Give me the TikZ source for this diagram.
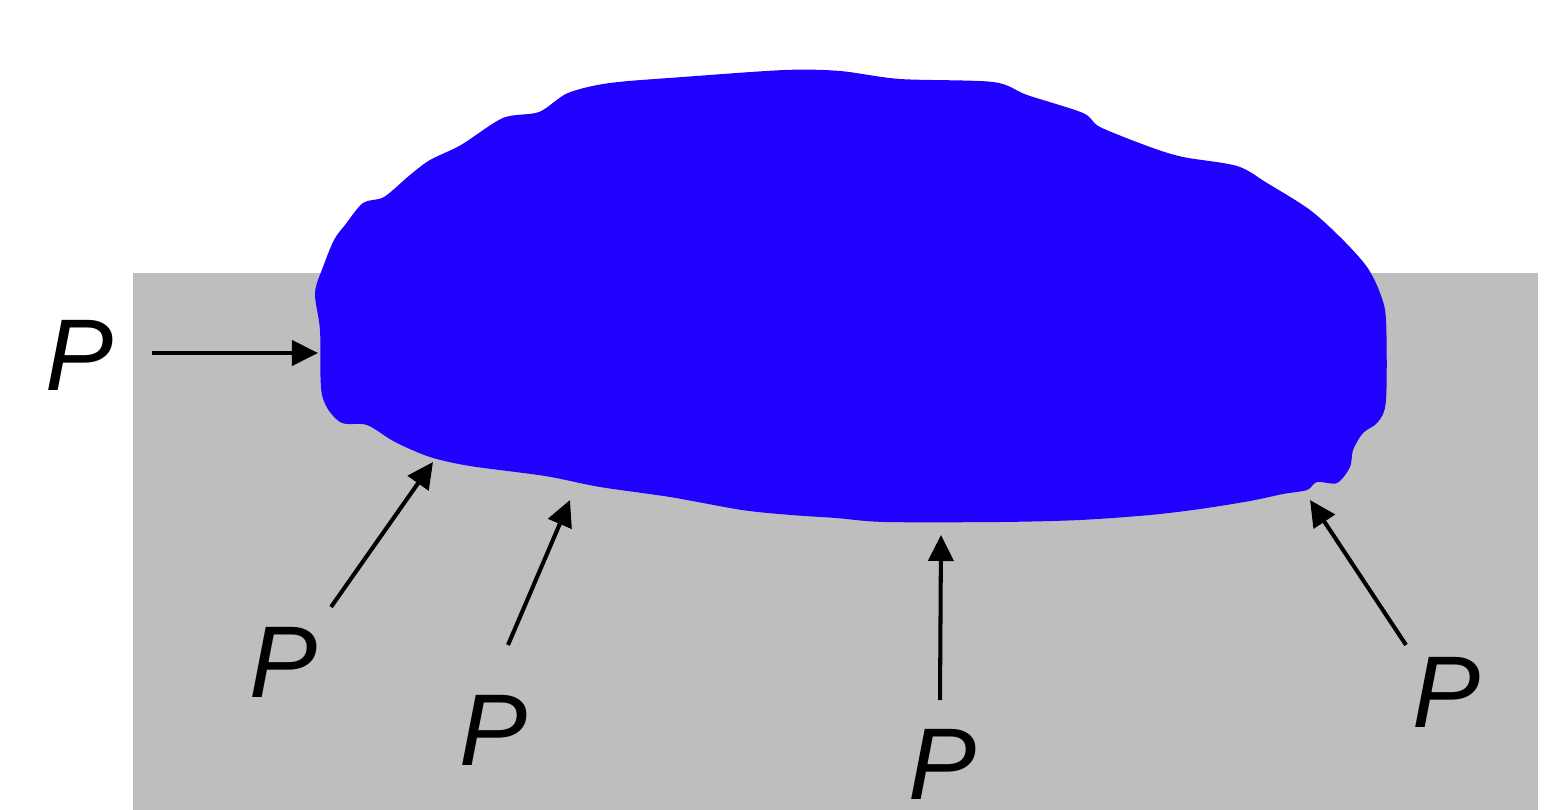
\documentclass[tikz,border=0pt]{standalone}
\usepackage{fontspec}
\setmainfont{Liberation Sans}
\usetikzlibrary{arrows.meta}
\definecolor{dropblue}{HTML}{2000FF}
\definecolor{surfgray}{HTML}{BEBEBE}

\begin{document}
\begin{tikzpicture}[x=0.01cm, y=-0.01cm,
  force/.style={-{Triangle[length=2.6mm,width=2.5mm]}, line width=1.15pt, draw=black},
  plabel/.style={font=\fontsize{29}{29}\selectfont\itshape, inner sep=0pt}
]
  \useasboundingbox (0,0) rectangle (1558,810);
  \fill[white] (0,0) rectangle (1558,810);
  % substrate
  \fill[surfgray] (133,273) rectangle (1538,810);
  % droplet
  \fill[dropblue] plot[smooth cycle, tension=0.5] coordinates {
    (315,293) (323,267) (334,240) (345,225) (363,203) (384,197) (410,175)
    (430,160) (461,145) (503,118) (539,112) (568,93) (610,83) (683,77)
    (785,70) (840,71) (900,79) (993,82) (1027,95) (1083,113) (1100,127)
    (1150,147) (1183,157) (1237,166) (1267,183) (1310,210) (1343,240)
    (1367,267) (1380,293) (1386,320) (1386,400) (1378,422) (1363,433)
    (1353,450) (1350,467) (1337,483) (1317,482) (1307,490) (1283,494)
    (1250,501) (1200,509) (1150,515) (1080,520) (1000,522) (885,522)
    (836,518) (791,515) (742,510) (670,497) (600,487) (545,476) (470,466)
    (430,457) (395,442) (367,425) (340,422) (322,395) (320,330)};
  % pressure labels
  \node[plabel] (p1) at (80,355) {P};
  \node[plabel] (p2) at (284,662) {P};
  \node[plabel] (p3) at (494,730) {P};
  \node[plabel] (p4) at (942,764) {P};
  \node[plabel] (p5) at (1446,692) {P};
  % arrow ends
  \coordinate (t1) at (152,353);  \coordinate (h1) at (318,353);
  \coordinate (t2) at (331,607);  \coordinate (h2) at (433,462);
  \coordinate (t3) at (508,645);  \coordinate (h3) at (570,500);
  \coordinate (t4) at (940,700);  \coordinate (h4) at (941,535);
  \coordinate (t5) at (1406,645); \coordinate (h5) at (1310,500);
  \foreach \i in {1,...,5}{\draw[force] (t\i) -- (h\i);}
\end{tikzpicture}
\end{document}
